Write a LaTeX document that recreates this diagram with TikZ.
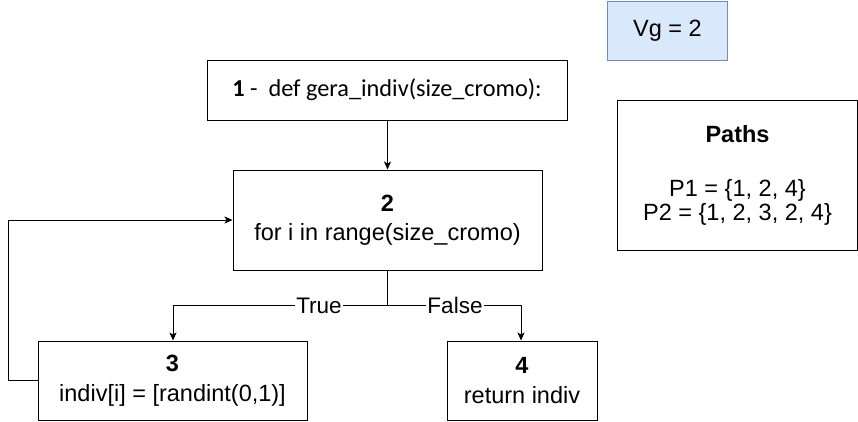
\documentclass[tikz,border=0pt]{standalone}
\usepackage{fontspec}
\setmainfont{Liberation Sans}
\newfontfamily\calib{Carlito}
\usetikzlibrary{arrows.meta}
\definecolor{vgfill}{RGB}{218,232,252}
\definecolor{vgline}{RGB}{108,142,191}
\begin{document}
\begin{tikzpicture}[x=1pt,y=-1pt,
  box/.style={draw=black,line width=1pt,inner sep=0pt,align=center,font=\fontsize{23.5}{24}\selectfont},
  arr/.style={draw=black,line width=1pt,-{Stealth[length=8pt,width=7pt,inset=2pt]}},
  lbl/.style={fill=white,inner sep=1pt,font=\fontsize{22.5}{24}\selectfont}]
\useasboundingbox (0,0) rectangle (858,421);
\node[box,minimum width=360pt,minimum height=60pt,font=\calib\fontsize{24.3}{26}\selectfont] (n1) at (387,90) {\textbf{1} -\ \ def gera\_indiv(size\_cromo):};
\node[box,minimum width=309pt,minimum height=100pt] (n2) at (387.5,220) {\textbf{2}\\[5pt]for i in range(size\_cromo)};
\node[box,minimum width=269pt,minimum height=79pt] (n3) at (172.5,380.5) {\textbf{3}\\[6pt]indiv[i] = [randint(0,1)]};
\node[box,minimum width=150pt,minimum height=79pt] (n4) at (522,380.5) {\textbf{4}\\[6pt]return indiv};
\node[box,draw=vgline,fill=vgfill,minimum width=120pt,minimum height=59pt] (vg) at (667.5,30.5) {Vg = 2};
\node[box,minimum width=240pt,minimum height=150pt] (paths) at (737.5,175) {\textbf{Paths}\\[30pt]P1 = \{1, 2, 4\}\\P2 = \{1, 2, 3, 2, 4\}};
\coordinate (s) at (387.5,305.5);
\coordinate (l) at (173,305.5);
\coordinate (r) at (521,305.5);
\coordinate (b1) at (8,380.5);
\coordinate (b2) at (8,220);
\draw[arr] (n1.south -| s) -- (n2.north -| s);
\draw[line width=1pt] (n2.south -| s) -- (s);
\draw[arr] (s) -- (l) -- (n3.north -| l);
\draw[arr] (s) -- (r) -- (n4.north -| r);
\node[lbl] (t) at (319,305.5) {True};
\node[lbl] (f) at (455,305.5) {False};
\draw[arr] (n3.west) -- (b1) -- (b2) -- (n2.west);
\end{tikzpicture}
\end{document}
